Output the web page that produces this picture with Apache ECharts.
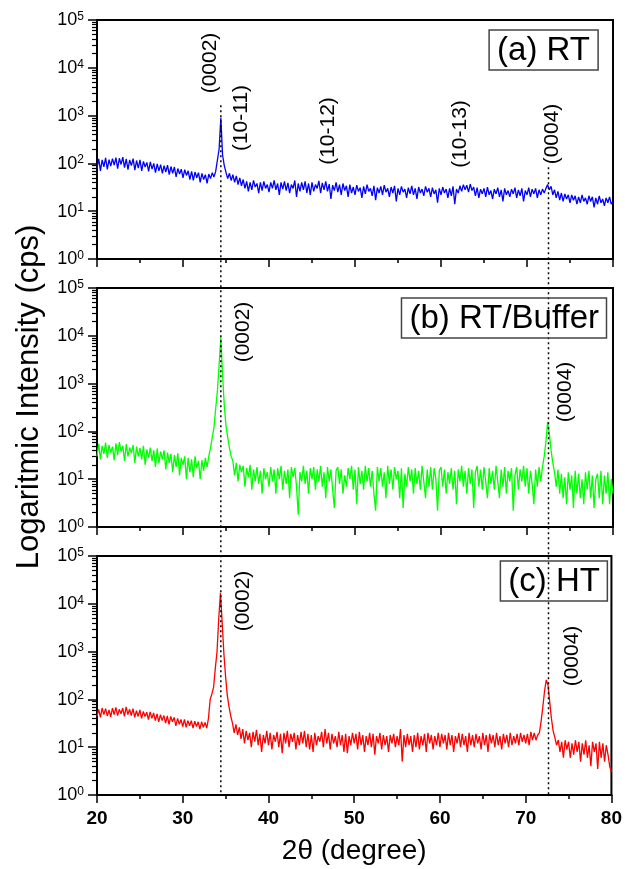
<!DOCTYPE html>
<html><head><meta charset="utf-8">
<script src="https://cdn.jsdelivr.net/npm/echarts@6/dist/echarts.min.js"></script>
<style>html,body{margin:0;padding:0;background:#fff}#c{width:625px;height:869px}</style>
</head><body><div id="c"></div>
<script>
// ---- data ----
const angleStart = 20, angleStep = 0.2; // 2theta sampling grid (degrees)
const intensityRT = [
80,125,70,118,85, 130,75,120,88,126, 92,132,78,128,95, 135,82,124,74,118, 90,126,72,115,80,
118,70,110,84,105, 68,108,76,100,64, 98,70,94,62,90, 66,92,58,86,62, 84,52,78,60,76,
50,74,56,70,46, 68,44,66,50,64, 40,62,46,58,38, 60,48,64,52,68, 72,200,900,150,90,
65,48,62,44,58, 40,55,36,50,34, 46,30,42,26,40, 28,44,32,38,24, 40,27,42,30,36,
25,40,30,44,28, 38,22,40,29,42, 27,39,24,36,30, 44,20,38,26,40, 28,42,24,38,22,
40,26,36,30,43, 24,39,28,42,26, 37,18,35,27,40, 25,36,22,38,27, 34,20,36,24,32,
22,35,26,31,19, 33,23,36,26,30, 21,34,17,31,24, 33,22,35,25,30, 20,32,24,34,16,
30,22,33,25,29, 19,31,23,34,22, 30,18,32,24,29, 21,33,25,30,20, 31,23,28,15,30,
22,32,24,29,19, 30,21,33,14,29, 24,34,26,36,28, 35,25,37,27,32, 21,31,19,29,23,
30,20,32,22,27, 18,29,23,31,20, 28,16,30,22,27, 20,29,23,31,19, 28,21,30,16,27,
22,31,20,29,23, 30,19,28,22,29, 24,30,36,28,33, 22,28,19,26,17, 24,16,23,18,22,
15,22,17,21,14, 20,15,22,16,19, 14,21,16,20,12, 19,14,21,15,18, 13,19,15,20,14,
16];
const intensityBuffer = [
30,55,26,50,34, 58,28,52,36,48, 25,56,32,60,38, 50,24,54,30,46, 35,52,22,48,30,
45,26,50,20,42, 28,46,24,40,18, 44,22,38,26,40, 16,36,22,34,14, 32,18,35,12,28,
20,30,10,28,14, 26,11,30,17,24, 10,25,15,28,18, 30,45,75,120,300, 700,2500,9300,1500,350,
130,75,45,30,24, 12,22,9,20,14, 19,7,17,11,20, 6,16,9,18,8, 15,5,17,10,14,
7,18,9,16,5, 17,10,19,6,15, 8,16,4,18,11, 17,7,1.8,14,9, 19,8,15,5,17,
10,18,6,16,9, 19,7,14,4,18, 9,16,6,2.5,15, 18,8,16,5,12, 7,17,10,19,6,
16,3,18,8,15, 6,19,9,17,7, 15,5,2.2,18,9, 17,7,14,4,19, 8,16,6,18,10,
15,4,17,2.5,13, 7,18,9,16,5, 17,8,15,6,19, 9,4,16,7,18, 6,17,10,2.2,15,
18,7,16,5,14, 8,17,6,15,3, 16,9,19,7,15, 5,17,8,16,2.5, 14,19,7,16,6,
18,9,4,17,8, 15,6,19,9,4, 16,7,18,5,15, 9,17,2.2,12,18, 6,16,9,19,7,
17,5,15,8,3, 16,7,18,9,18, 30,60,158,90,40, 22,14,7,16,5, 13,4,11,3,14,
6,12,2.5,15,5, 13,4,10,3,14, 6,15,4,12,2.5, 10,13,4,15,3, 12,5,14,3,10,
5];
const intensityHT = [
44,62,42,66,48, 64,45,60,43,66, 48,68,46,62,50, 66,44,70,48,62, 46,64,42,58,44,
60,40,56,44,54, 38,55,40,52,36, 50,34,48,36,46, 32,45,30,44,34, 42,28,40,30,38,
27,38,26,36,28, 36,25,35,27,34, 24,34,26,33,25, 40,100,130,180,450, 1000,5000,17000,4000,900,
300,120,70,45,32, 20,30,18,26,15, 24,12,22,14,20, 10,21,13,23,11, 19,8,18,12,22,
11,20,9,18,13, 21,10,19,7.5,20, 12,22,10,19,13, 20,9,18,11,21, 12,22,10,19,9,
18,8,20,11,17, 13,21,10,24,12, 20,9,19,12,17, 10,21,11,18,8, 19,7.5,17,11,20,
12,19,9,21,11, 18,8,17,11,20, 10,19,7,17,12, 20,9,18,11,17, 8,18,12,19,10,
17,11,24,5,18, 10,19,11,17,8, 18,10,20,9,17, 11,19,8,20,12, 18,9,17,11,20,
10,19,12,18,9, 20,11,18,8,17, 12,20,10,19,11, 17,8,20,11,18, 10,19,12,17,9,
20,11,18,8,19, 12,18,10,20,11, 17,9,19,12,18, 10,20,11,17,12, 19,11,20,13,18,
12,19,11,21,14, 20,14,18,20,35, 70,150,255,200,90, 40,22,16,11,14, 8,13,6,14,9,
13,6,12,7,14, 8,13,5,12,7, 14,6,11,4,13, 8,12,3.5,13,6, 12,5,11,7,4,
3];
const panelNames = ['(a) RT', '(b) RT/Buffer', '(c) HT'];
const seriesColors = ['#0000ff', '#00ff00', '#ff0000'];
const peakAngles = [34.4, 72.5];
const xTitle = '2\u03b8 (degree)';
const yTitle = 'Logaritmic Intensity (cps)';
const peakLabels = [
  [0, '(0002)'], [0, '(10-11)'], [0, '(10-12)'], [0, '(10-13)'], [0, '(0004)'],
  [1, '(0002)'], [1, '(0004)'],
  [2, '(0002)'], [2, '(0004)']
];

// ---- layout ----
const FONT = '"Liberation Sans", Arial, Helvetica, sans-serif';
const L = 97, W = 516;
const tops = [20, 288, 556], H = 239;
const labelPos = [[210, 63], [241, 118], [328, 131], [460, 134], [552, 134],
                  [243, 332], [565, 392], [243, 601], [572, 656]];
const boxRight = [27, 18, 17], boxTop = [30, 298, 561];
const lineTopFrac = [0.890, 0.81];

const allData = [intensityRT, intensityBuffer, intensityHT];
const toPairs = arr => arr.map((v, i) => [+(angleStart + i * angleStep).toFixed(2), v]);
// log minor tick values 2..9 x 10^k
const minorVals = [];
for (let k = 0; k < 5; k++) for (let m = 2; m <= 9; m++) minorVals.push(m * Math.pow(10, k));

const grids = [], xAxes = [], yAxes = [], series = [];
for (let i = 0; i < 3; i++) {
  grids.push({left: L, width: W, top: tops[i], height: H, show: true, borderColor: '#000', borderWidth: 2, backgroundColor: 'transparent'});
  xAxes.push({type: 'value', gridIndex: i, min: 20, max: 80, interval: 10,
    axisLine: {onZero: false, lineStyle: {color: '#000', width: 2}},
    axisTick: {length: 8, lineStyle: {color: '#000', width: 1.5}},
    minorTick: {show: true, splitNumber: 2, length: 4, lineStyle: {color: '#000', width: 1.5}},
    splitLine: {show: false}, minorSplitLine: {show: false},
    axisLabel: {show: i === 2, color: '#000', fontFamily: FONT, fontSize: 19, fontWeight: 'bold', margin: 14},
    name: i === 2 ? xTitle : '', nameLocation: 'middle', nameGap: 42,
    nameTextStyle: {color: '#000', fontFamily: FONT, fontSize: 28}
  });
  yAxes.push({type: 'log', logBase: 10, gridIndex: i, min: 1, max: 100000,
    axisLine: {show: true, onZero: false, lineStyle: {color: '#000', width: 2}},
    axisTick: {show: true, length: 9, lineStyle: {color: '#000', width: 1.5}},
    minorTick: {show: false},
    splitLine: {show: false}, minorSplitLine: {show: false},
    axisLabel: {color: '#000', margin: 13,
      formatter: v => '{b|10}{s|' + Math.round(Math.log10(v)) + '}',
      rich: {b: {fontFamily: FONT, fontSize: 18, lineHeight: 19, verticalAlign: 'bottom', color: '#000'},
             s: {fontFamily: FONT, fontSize: 12, lineHeight: 12, padding: [0, 0, 10, 0], verticalAlign: 'top', color: '#000'}}}
  });
  series.push({type: 'line', xAxisIndex: i, yAxisIndex: i, data: toPairs(allData[i]),
    showSymbol: false, symbol: 'none', lineStyle: {color: seriesColors[i], width: 1.3}, itemStyle: {color: seriesColors[i]},
    animation: false, silent: true, z: 2});
}
// secondary log axes carrying the 2..9 minor ticks
for (let i = 0; i < 3; i++) {
  yAxes.push({type: 'log', logBase: 10, gridIndex: i, min: 1, max: 100000, position: 'left',
    axisLine: {show: true, onZero: false, lineStyle: {color: '#000', width: 2}},
    axisLabel: {show: false}, splitLine: {show: false}, minorTick: {show: false},
    axisTick: {show: true, length: 5, customValues: minorVals, lineStyle: {color: '#000', width: 1.2}}});
}
// overlay grid for dotted peak position lines
grids.push({left: L, width: W, top: tops[0], height: tops[2] + H - tops[0], show: false});
xAxes.push({type: 'value', gridIndex: 3, min: 20, max: 80, show: false});
yAxes.push({type: 'value', gridIndex: 3, min: 0, max: 1, show: false});
peakAngles.forEach((a, j) => {
  series.push({type: 'line', xAxisIndex: 3, yAxisIndex: 6, data: [[a, lineTopFrac[j]], [a, 0]],
    showSymbol: false, symbol: 'none', lineStyle: {color: '#000', width: 1.5, type: [2, 3]}, animation: false, silent: true, z: 5});
});

const titles = panelNames.map((t, i) => ({text: t, right: boxRight[i], top: boxTop[i],
  padding: [2, 8, 1, 8], borderColor: '#444', borderWidth: 1.5,
  textStyle: {fontFamily: FONT, fontSize: 33, fontWeight: 'normal', color: '#000', lineHeight: 37}}));

const graphics = peakLabels.map((p, k) => ({type: 'text', x: labelPos[k][0], y: labelPos[k][1], rotation: Math.PI / 2,
  style: {text: p[1], font: '21px ' + FONT, fill: '#000', textAlign: 'center', textVerticalAlign: 'middle'}, z: 10}));
graphics.push({type: 'text', x: 29, y: 397, rotation: Math.PI / 2,
  style: {text: yTitle, font: '31px ' + FONT, fill: '#000', textAlign: 'center', textVerticalAlign: 'middle'}});

const chart = echarts.init(document.getElementById('c'), null, {renderer: 'canvas'});
chart.setOption({animation: false, backgroundColor: '#fff', title: titles,
  grid: grids, xAxis: xAxes, yAxis: yAxes, series: series, graphic: graphics});
</script></body></html>
